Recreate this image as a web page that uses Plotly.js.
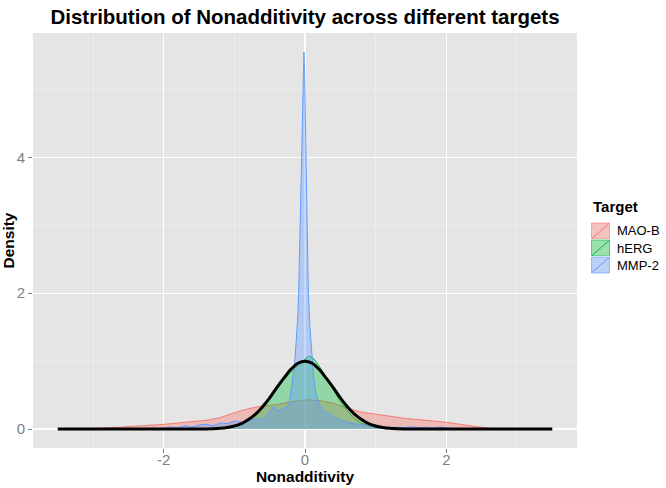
<!DOCTYPE html>
<html>
<head>
<meta charset="utf-8">
<script src="https://cdn.plot.ly/plotly-3.0.1.min.js"></script>
<style>html,body{margin:0;padding:0;background:#fff;}#chart{width:666px;height:488px;}</style>
</head>
<body>
<div id="chart"></div>
<script>
// ---- data ----
const seriesNames = ["MAO-B", "hERG", "MMP-2"];

const maobX = [-3.3,-3.0,-2.6,-2.3,-2.0,-1.8,-1.6,-1.4,-1.2,-1.0,-0.8,-0.6,-0.4,-0.2,0.0,0.2,0.4,0.6,0.8,1.0,1.2,1.4,1.6,1.8,2.0,2.2,2.4,2.6,2.8];
const maobY = [0.0,0.01,0.03,0.05,0.07,0.09,0.11,0.13,0.17,0.24,0.30,0.34,0.36,0.40,0.43,0.42,0.38,0.31,0.25,0.22,0.19,0.16,0.14,0.12,0.10,0.07,0.04,0.015,0.0];

const hergX = [-1.8,-1.6,-1.4,-1.2,-1.0,-0.9,-0.8,-0.7,-0.6,-0.5,-0.4,-0.3,-0.2,-0.1,0.0,0.05,0.1,0.2,0.3,0.4,0.5,0.6,0.7,0.8,0.9,1.0,1.2,1.4,1.6,1.8];
const hergY = [0.0,0.001,0.003,0.01,0.04,0.07,0.13,0.21,0.32,0.45,0.59,0.72,0.84,0.94,1.03,1.07,1.06,0.93,0.76,0.58,0.41,0.27,0.16,0.09,0.05,0.025,0.007,0.002,0.001,0.0];

const mmp2X = [-2.2,-2.1,-2.0,-1.9,-1.8,-1.7,-1.6,-1.5,-1.4,-1.3,-1.2,-1.1,-1.0,-0.9,-0.8,-0.7,-0.6,-0.55,-0.5,-0.45,-0.4,-0.35,-0.3,-0.25,-0.22,-0.19,-0.16,-0.14,-0.12,-0.1,-0.09,-0.07,-0.05,-0.04,-0.025,-0.015,-0.005,0.005,0.015,0.02,0.035,0.047,0.07,0.095,0.12,0.15,0.2,0.25,0.3,0.35,0.4,0.45,0.5,0.55,0.6,0.7,0.8,0.9,1.0,1.1,1.2,1.3,1.4,1.5,1.6,1.7,1.8,1.9,2.0,2.1,2.2];
const mmp2Y = [0.0,0.005,0.015,0.03,0.02,0.05,0.03,0.06,0.07,0.05,0.09,0.08,0.12,0.10,0.13,0.14,0.15,0.20,0.24,0.33,0.27,0.28,0.30,0.33,0.40,0.60,0.85,1.05,1.35,1.70,2.00,3.00,3.70,4.00,5.00,5.55,5.20,4.50,4.00,3.40,2.60,2.00,1.50,1.06,0.80,0.55,0.36,0.28,0.24,0.23,0.18,0.17,0.13,0.12,0.10,0.08,0.07,0.05,0.03,0.04,0.02,0.03,0.02,0.035,0.02,0.03,0.02,0.03,0.02,0.01,0.0];

const normX = [-3.5,-3.0,-2.5,-2.0,-1.8,-1.6,-1.5,-1.4,-1.3,-1.2,-1.1,-1.0,-0.9,-0.8,-0.7,-0.6,-0.5,-0.4,-0.3,-0.2,-0.1,0.0,0.1,0.2,0.3,0.4,0.5,0.6,0.7,0.8,0.9,1.0,1.1,1.2,1.3,1.4,1.5,1.6,1.8,2.0,2.5,3.0,3.5];
const normY = [0,0,0,0,0.0002,0.0005,0.001,0.002,0.005,0.012,0.024,0.045,0.08,0.14,0.22,0.33,0.46,0.61,0.75,0.88,0.97,1.0,0.97,0.88,0.75,0.61,0.46,0.33,0.22,0.14,0.08,0.045,0.024,0.012,0.005,0.002,0.001,0.0005,0.0002,0,0,0,0];

const xTickVals = [-2, 0, 2];
const yTickVals = [0, 2, 4];

// ---- styling ----
const lineCols = ["#F8766D", "#00BA38", "#619CFF"];
const fillCols = ["rgba(248,118,109,0.38)", "rgba(0,186,56,0.36)", "rgba(97,156,255,0.38)"];
const seriesX = [maobX, hergX, mmp2X];
const seriesY = [maobY, hergY, mmp2Y];
const shapesKind = ["spline", "spline", "linear"];

const traces = seriesNames.map((n, i) => ({
  type: "scatter", mode: "lines", name: n,
  x: seriesX[i], y: seriesY[i],
  fill: "tozeroy", fillcolor: fillCols[i],
  line: {color: lineCols[i], width: 1, shape: shapesKind[i], smoothing: 0.6},
  showlegend: false, hoverinfo: "skip"
}));
traces.push({
  type: "scatter", mode: "lines", name: "normal",
  x: normX, y: normY,
  line: {color: "#000000", width: 3, shape: "spline", smoothing: 0.6},
  showlegend: false, hoverinfo: "skip"
});

const W = 666, H = 488;
const M = {l: 33, r: 89, t: 33, b: 40};
const pw = W - M.l - M.r, ph = H - M.t - M.b;
const px2x = p => (p - M.l) / pw;
const py2y = p => (H - M.b - p) / ph;

const FONT = "Liberation Sans, Arial, Helvetica, sans-serif";

// custom legend (ggplot-like keys)
const shapes = [];
const annotations = [];
const keyL = 591, keyR = 610, keyTop = 222.5, keyH = 17;
seriesNames.forEach((n, i) => {
  const t = keyTop + i * keyH, b = t + keyH;
  shapes.push({type: "rect", xref: "paper", yref: "paper", x0: px2x(keyL), x1: px2x(keyR), y0: py2y(b), y1: py2y(t),
    fillcolor: "#F2F2F2", line: {color: "#FFFFFF", width: 1}, layer: "above"});
  shapes.push({type: "rect", xref: "paper", yref: "paper", x0: px2x(keyL + 0.5), x1: px2x(keyR - 0.5), y0: py2y(b - 0.5), y1: py2y(t + 0.5),
    fillcolor: fillCols[i], line: {color: lineCols[i], width: 0.6}, layer: "above"});
  shapes.push({type: "line", xref: "paper", yref: "paper", x0: px2x(keyL + 1), x1: px2x(keyR - 1), y0: py2y(b - 1), y1: py2y(t + 1),
    line: {color: lineCols[i], width: 1}, layer: "above"});
  annotations.push({xref: "paper", yref: "paper", x: px2x(615), y: py2y(t + keyH / 2), xanchor: "left", yanchor: "middle",
    text: n, showarrow: false, font: {family: FONT, size: 13, color: "#000"}});
});
annotations.push({xref: "paper", yref: "paper", x: px2x(591), y: py2y(206), xanchor: "left", yanchor: "middle",
  text: "<b>Target</b>", showarrow: false, font: {family: FONT, size: 15, color: "#000"}});

const layout = {
  width: W, height: H,
  margin: M,
  paper_bgcolor: "#FFFFFF",
  plot_bgcolor: "#E5E5E5",
  showlegend: false,
  title: {text: "<b>Distribution of Nonadditivity across different targets</b>", x: 0.5, xref: "paper",
    y: 1 - 17 / H, yref: "container", yanchor: "middle", font: {family: FONT, size: 20.5, color: "#000"}},
  xaxis: {
    range: [-3.85, 3.85], tickvals: xTickVals, ticktext: xTickVals.map(String),
    showgrid: true, gridcolor: "#FFFFFF", gridwidth: 1.3, zeroline: false, showline: false,
    ticks: "outside", ticklen: 4, tickcolor: "#7F7F7F", tickwidth: 1,
    ticklabelstandoff: -6,
    tickfont: {family: FONT, size: 15, color: "#7F7F7F"},
    minor: {dtick: 1, tick0: 0, showgrid: true, gridcolor: "#F2F2F2", gridwidth: 0.6, ticks: ""},
    title: {text: "<b>Nonadditivity</b>", font: {family: FONT, size: 15.5, color: "#000"}, standoff: 0}
  },
  yaxis: {
    range: [-0.278, 5.83], tickvals: yTickVals, ticktext: yTickVals.map(String),
    showgrid: true, gridcolor: "#FFFFFF", gridwidth: 1.3, zeroline: false, showline: false,
    ticks: "outside", ticklen: 4, tickcolor: "#7F7F7F", tickwidth: 1,
    tickfont: {family: FONT, size: 15, color: "#7F7F7F"},
    minor: {dtick: 1, tick0: 0, showgrid: true, gridcolor: "#F2F2F2", gridwidth: 0.6, ticks: ""},
    title: {text: "<b>Density</b>", font: {family: FONT, size: 15.5, color: "#000"}, standoff: 2}
  },
  shapes: shapes,
  annotations: annotations
};

Plotly.newPlot("chart", traces, layout, {displayModeBar: false, staticPlot: true});
</script>
</body>
</html>
